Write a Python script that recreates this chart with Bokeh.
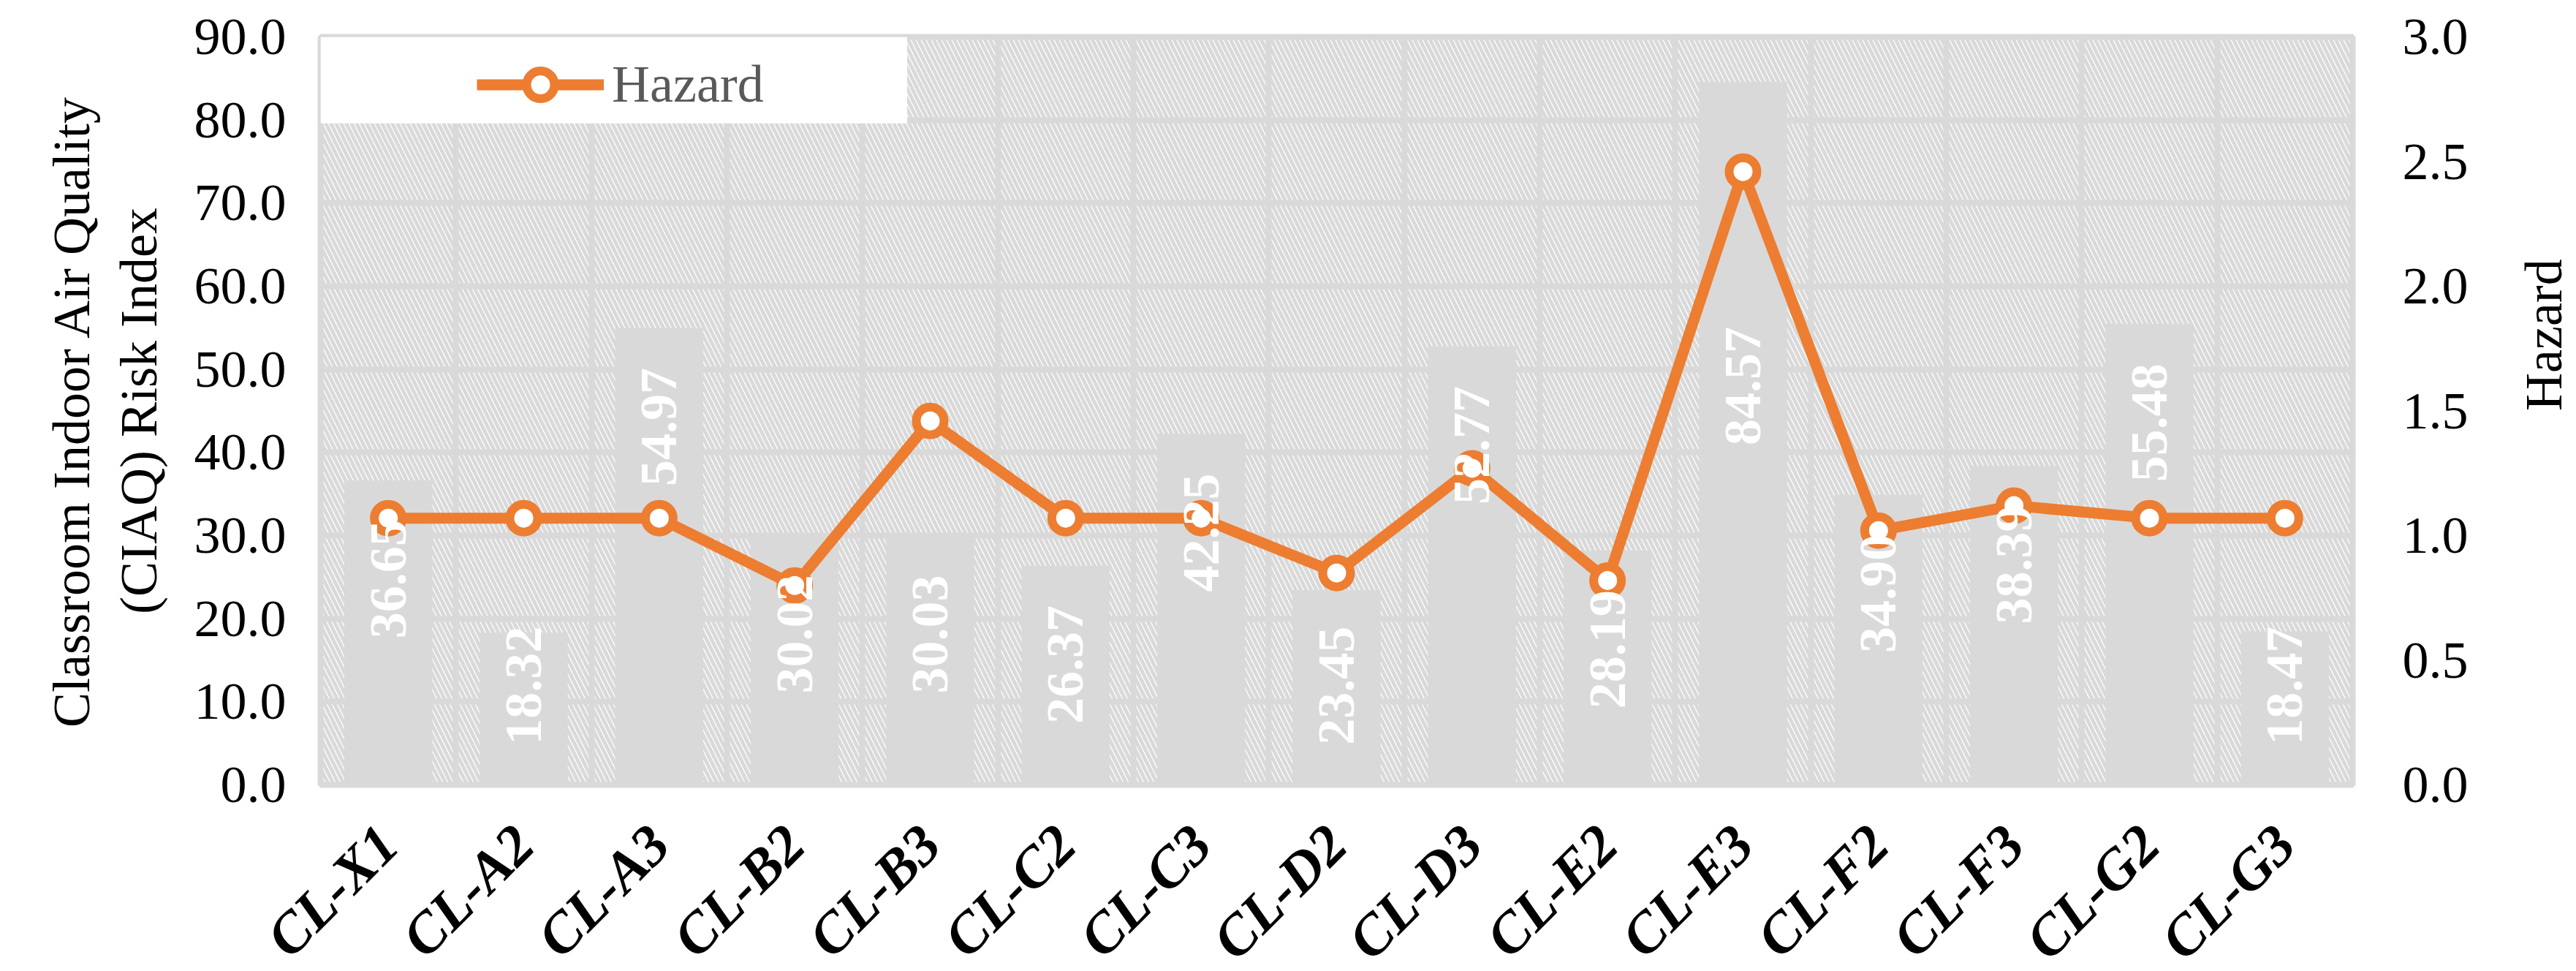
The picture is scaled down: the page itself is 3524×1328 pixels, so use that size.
import math
from bokeh.plotting import figure
from bokeh.models import (Range1d, LinearAxis, FixedTicker, PrintfTickFormatter,
                          BoxAnnotation, Legend, LegendItem, FactorRange, Title)
from bokeh.core.properties import value
from bokeh.embed import file_html
from bokeh.resources import INLINE

# ---------------- data ----------------
categories = ["CL-X1", "CL-A2", "CL-A3", "CL-B2", "CL-B3", "CL-C2", "CL-C3", "CL-D2",
              "CL-D3", "CL-E2", "CL-E3", "CL-F2", "CL-F3", "CL-G2", "CL-G3"]
ciaq_index = [36.65, 18.32, 54.97, 30.02, 30.03, 26.37, 42.25, 23.45,
              52.77, 28.19, 84.57, 34.90, 38.39, 55.48, 18.47]
hazard = [1.07, 1.07, 1.07, 0.80, 1.46, 1.07, 1.07, 0.85,
          1.27, 0.82, 2.46, 1.02, 1.12, 1.07, 1.07]
left_ticks = [0, 10, 20, 30, 40, 50, 60, 70, 80, 90]
right_ticks = [0.0, 0.5, 1.0, 1.5, 2.0, 2.5, 3.0]

FONT = "Liberation Serif"
GRID = "#d9d9d9"
ORANGE = "#ED7D31"
FS = "72px"

# label placement rule (inside end, kept within the bar and lower area)
label_y = [min(max(v - 11.9, 11.95), 48.0) for v in ciaq_index]
label_txt = [f"{v:.2f}" for v in ciaq_index]

p = figure(x_range=FactorRange(*categories), y_range=Range1d(0, 90),
           frame_width=2780, frame_height=1023,
           min_border_left=438, min_border_right=290, min_border_top=50, min_border_bottom=239,
           output_backend="svg", toolbar_location=None,
           background_fill_color="white", border_fill_color="white")

p.outline_line_color = GRID
p.outline_line_width = 8

p.ygrid.ticker = FixedTicker(ticks=left_ticks)
p.ygrid.grid_line_color = GRID
p.ygrid.grid_line_width = 8
p.xgrid.ticker = FixedTicker(ticks=list(range(len(categories) + 1)))
p.xgrid.grid_line_color = GRID
p.xgrid.grid_line_width = 8

# hatched plot-area background
hatch = BoxAnnotation(fill_alpha=0, line_color=None, hatch_pattern="\\", hatch_color=GRID,
                      hatch_scale=14, hatch_weight=5, level="underlay")
p.add_layout(hatch)

p.extra_y_ranges = {"hz": Range1d(0, 3)}

# axes
yl = p.yaxis[0]
yl.ticker = FixedTicker(ticks=left_ticks)
yl.formatter = PrintfTickFormatter(format="%.1f")
yl.axis_label = "Classroom Indoor Air Quality\n(CIAQ) Risk Index"

yr = LinearAxis(y_range_name="hz", ticker=FixedTicker(ticks=right_ticks),
                formatter=PrintfTickFormatter(format="%.1f"))
p.add_layout(yr, "right")

has_orient = "axis_label_orientation" in yr.properties()
if has_orient:
    yr.axis_label = "Hazard"
    yr.axis_label_orientation = math.pi / 2
    yr.axis_label_standoff = 100

for ax in [yl, yr]:
    ax.axis_line_color = None
    ax.major_tick_line_color = None
    ax.minor_tick_line_color = None
    ax.major_label_text_font = FONT
    ax.major_label_text_font_size = FS
    ax.major_label_text_color = "black"
    ax.axis_label_text_font = FONT
    ax.axis_label_text_font_size = FS
    ax.axis_label_text_font_style = "normal"
    ax.axis_label_text_color = "black"
yl.major_label_standoff = 41
yr.major_label_standoff = 62
yl.axis_label_standoff = 33
yl.axis_label_text_line_height = 1.15

if not has_orient:
    p.add_layout(Title(text="Hazard", align="center", text_font=FONT, text_font_size=FS,
                       text_font_style="normal", text_color="black"), "right")

xa = p.xaxis[0]
xa.axis_line_color = None
xa.major_tick_line_color = None
xa.minor_tick_line_color = None
xa.major_label_orientation = math.pi / 4
xa.major_label_text_font = FONT
xa.major_label_text_font_size = "78px"
xa.major_label_text_font_style = "bold italic"
xa.major_label_text_color = "black"
xa.major_label_standoff = 62

# bars
p.vbar(x=categories, top=ciaq_index, width=0.65, fill_color=GRID, line_color=None)

# hazard line
r_line = p.line(x=categories, y=hazard, y_range_name="hz", line_color=ORANGE, line_width=15)
r_pts = p.scatter(x=categories, y=hazard, y_range_name="hz", size=38, fill_color="white",
                  line_color=ORANGE, line_width=12)

# data labels
p.text(x=categories, y=label_y, text=label_txt, angle=math.pi / 2,
       text_align="center", text_baseline="middle", text_color="white",
       text_font=value(FONT), text_font_style="bold", text_font_size=FS)

# legend (white box + item)
legend_box = BoxAnnotation(left=0, right=4.33, top=90, bottom=79.6,
                           fill_color="white", fill_alpha=1, line_color=None)
p.add_layout(legend_box)

legend = Legend(items=[LegendItem(label="Hazard", renderers=[r_line, r_pts])],
                location=(214, 910), padding=0, margin=0, spacing=0,
                glyph_width=174, glyph_height=95, label_height=95, label_standoff=11,
                label_text_font=FONT, label_text_font_size=FS, label_text_color="#595959",
                background_fill_alpha=0, border_line_color=None)
p.add_layout(legend)

open("out.html", "w").write(file_html(p, INLINE))
